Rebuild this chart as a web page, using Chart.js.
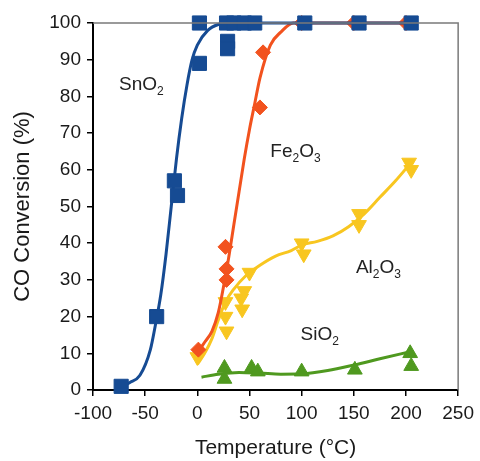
<!DOCTYPE html>
<html>
<head>
<meta charset="utf-8">
<script src="https://cdn.jsdelivr.net/npm/chart.js@4.4.1/dist/chart.umd.min.js"></script>
<style>
  html, body { margin: 0; padding: 0; background: #fff; }
  #wrap { width: 480px; height: 461px; }
</style>
</head>
<body>
<div id="wrap"><canvas id="chart" width="480" height="461"></canvas></div>
<script>
// measured points (temperature in °C, conversion in %)
const snT = [-73, -39, -22, -19, 2, 2, 29, 29, 28, 35, 45, 55, 103, 155, 205];
const snV = [1, 20, 57, 53, 89, 100, 95, 93, 100, 100, 100, 100, 100, 100, 100];
const feT = [1, 27, 28, 28, 60, 63, 100, 150, 200];
const feV = [11, 39, 33, 30, 77, 92, 100, 100, 100];
const alT = [0, 27, 27, 28, 42, 43, 45, 50, 100, 102, 155, 155, 203, 205];
const alV = [9, 24, 20, 16, 25, 22, 27, 32, 40, 37, 48, 45, 62, 60];
const siT = [26, 26, 52, 58, 100, 151, 204, 205];
const siV = [6, 3, 6, 5, 5, 5.5, 10, 6.5];

// fitted curves
const snFitT = [-75, -65, -55, -45, -40, -35, -30, -25, -20, -15, -10, -5, 0, 10, 20, 30, 208];
const snFitV = [0.5, 2, 4, 11, 18, 26, 37, 50, 63, 74, 83, 90, 94, 98, 99.6, 100, 100];
const feFitT = [0, 7, 14, 20, 25, 30, 35, 40, 45, 50, 55, 60, 70, 80, 92, 205];
const feFitV = [10, 13, 16, 21, 28, 36, 45, 54, 63, 71, 78, 85, 94, 97.5, 100, 100];
const alFitT = [0, 7, 14, 20, 27, 35, 46, 60, 75, 90, 100, 115, 130, 145, 160, 175, 190, 205];
const alFitV = [7, 10, 14, 19, 24, 27.5, 31, 34, 36.5, 38, 39.5, 40.5, 42, 44.5, 48, 52.5, 57, 62];
const siFitT = [4, 20, 40, 60, 80, 100, 125, 150, 175, 205];
const siFitV = [3.5, 4.3, 4.8, 4.6, 4.3, 4.4, 5.3, 6.8, 8.5, 10.5];

const xTicks = [-100, -50, 0, 50, 100, 150, 200, 250];

const BLUE = '#164b93';
const RED = '#f2521e';
const YELLOW = '#f8c620';
const GREEN = '#4f991f';
const FONT = '"Liberation Sans", Arial, sans-serif';

const pts = (xs, ys) => xs.map((x, i) => ({ x: x, y: ys[i] }));

function fitSet(xs, ys, color, order) {
    return {
        type: 'line', data: pts(xs, ys), borderColor: color, borderWidth: 3,
        pointRadius: 0, cubicInterpolationMode: 'monotone', fill: false, order: order
    };
}
function markSet(xs, ys, color, style, radius, rotation, order) {
    return {
        type: 'scatter', data: pts(xs, ys), backgroundColor: color, borderColor: color,
        borderWidth: 1, pointStyle: style, pointRadius: radius, rotation: rotation,
        showLine: false, order: order
    };
}

// series names drawn next to the curves, anchored in data space
const labels = [
    { base: 'SnO', sub: '2', tail: '', x: -75, y: 81.7 },
    { base: 'Fe', sub: '2', tail: 'O', sub2: '3', x: 70, y: 63.5 },
    { base: 'Al', sub: '2', tail: 'O', sub2: '3', x: 152, y: 32 },
    { base: 'SiO', sub: '2', tail: '', x: 99, y: 13.6 }
];

const extras = {
    id: 'extras',
    afterDatasetsDraw(chart) {
        const { ctx, chartArea: a, scales } = chart;
        ctx.save();
        ctx.strokeStyle = '#7a7a7a';
        ctx.lineWidth = 1.5;
        ctx.beginPath();
        ctx.moveTo(a.left, a.top);
        ctx.lineTo(a.right, a.top);
        ctx.lineTo(a.right, a.bottom);
        ctx.stroke();

        ctx.fillStyle = '#222';
        ctx.textBaseline = 'alphabetic';
        labels.forEach(l => {
            let px = scales.x.getPixelForValue(l.x);
            const py = scales.y.getPixelForValue(l.y);
            const parts = [[l.base, 0], [l.sub, 1], [l.tail, 0], [l.sub2 || '', 1]];
            parts.forEach(([t, s]) => {
                if (!t) return;
                ctx.font = (s ? '12px ' : '19px ') + FONT;
                ctx.fillText(t, px, py + (s ? 5 : 0));
                px += ctx.measureText(t).width;
            });
        });
        ctx.restore();
    }
};

new Chart(document.getElementById('chart'), {
    data: {
        datasets: [
            markSet(snT, snV, BLUE, 'rect', 10, 0, 1),
            fitSet(snFitT, snFitV, BLUE, 2),
            markSet(feT, feV, RED, 'rectRot', 7.5, 0, 3),
            fitSet(feFitT, feFitV, RED, 4),
            markSet(alT, alV, YELLOW, 'triangle', 8.5, 180, 5),
            fitSet(alFitT, alFitV, YELLOW, 6),
            markSet(siT, siV, GREEN, 'triangle', 8.5, 0, 7),
            fitSet(siFitT, siFitV, GREEN, 8)
        ]
    },
    options: {
        responsive: false,
        animation: false,
        clip: false,
        layout: { padding: { top: 23, right: 18, left: 0, bottom: 0 } },
        plugins: { legend: { display: false }, tooltip: { enabled: false } },
        scales: {
            x: {
                type: 'linear', min: -100, max: 250,
                afterBuildTicks: s => { s.ticks = xTicks.map(v => ({ value: v })); },
                afterFit: s => { s.height = 71; },
                ticks: { color: '#1a1a1a', font: { family: FONT, size: 19 }, padding: 6 },
                grid: { drawOnChartArea: false, tickLength: 6, color: '#000', lineWidth: 1.5 },
                border: { color: '#000', width: 2 },
                title: { display: true, text: 'Temperature (°C)', color: '#1a1a1a',
                         font: { family: FONT, size: 21 }, padding: 0 }
            },
            y: {
                type: 'linear', min: 0, max: 100,
                afterFit: s => { s.width = 93; },
                ticks: { stepSize: 10, color: '#1a1a1a', font: { family: FONT, size: 19 }, padding: 6 },
                grid: { drawOnChartArea: false, tickLength: 6, color: '#000', lineWidth: 1.5 },
                border: { color: '#000', width: 2 },
                title: { display: true, text: 'CO Conversion (%)', color: '#1a1a1a',
                         font: { family: FONT, size: 22 }, padding: { top: 10, bottom: 0 } }
            }
        }
    },
    plugins: [extras]
});
</script>
</body>
</html>
